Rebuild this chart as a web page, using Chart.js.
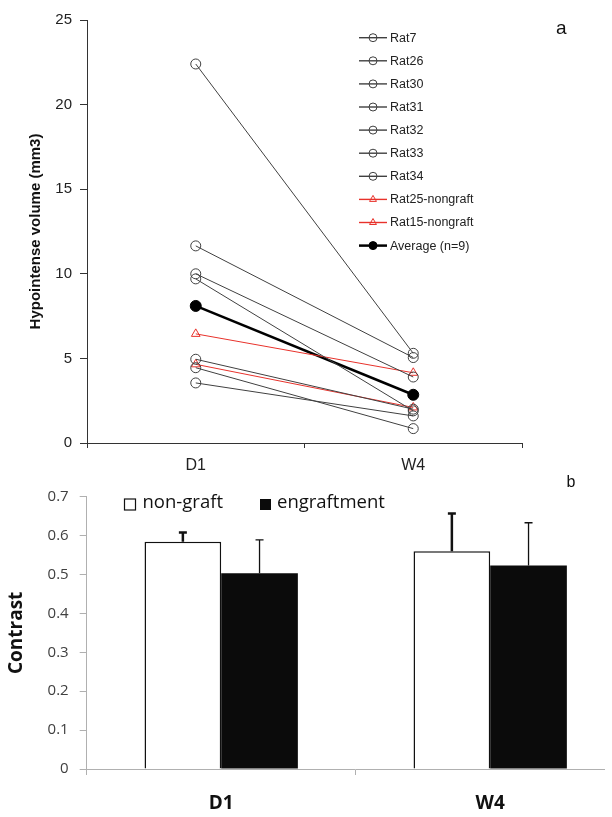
<!DOCTYPE html>
<html>
<head>
<meta charset="utf-8">
<script src="https://cdn.jsdelivr.net/npm/chart.js@4.4.1/dist/chart.umd.min.js"></script>
<style>
  html, body { margin: 0; padding: 0; background: #fff; width: 612px; height: 817px; overflow: hidden; }
  #volumeChart { position: absolute; left: 0; top: 0; }
  #bottomWrap { position: absolute; left: 0; top: 470px; width: 605px; height: 347px; overflow: hidden; }
</style>
</head>
<body>
<canvas id="volumeChart" width="612" height="480"></canvas>
<div id="bottomWrap"><canvas id="contrastChart" width="640" height="347"></canvas></div>
<script>
// Panel a: hypointense volume per rat
const timepoints = ['D1', 'W4'];
const rat7 = [22.4, 5.3];
const rat26 = [11.65, 5.05];
const rat30 = [10.0, 3.9];
const rat31 = [9.7, 1.9];
const rat32 = [4.95, 2.0];
const rat33 = [4.45, 0.85];
const rat34 = [3.55, 1.6];
const rat25Nongraft = [6.45, 4.15];
const rat15Nongraft = [4.65, 2.1];
const averageN9 = [8.1, 2.85];

// Panel b: contrast
const groups = ['D1', 'W4'];
const nongraftMean = [0.584, 0.560];
const nongraftErr = [0.024, 0.097];
const engraftMean = [0.503, 0.523];
const engraftErr = [0.086, 0.110];

const ARIAL = '"Liberation Sans", Arial, sans-serif';
const CALI = '"Open Sans", "Noto Sans", sans-serif';
const GREY = '#404040';
const RED = '#e8322b';

function ratSet(label, data, red) {
  const c = red ? RED : GREY;
  return {
    label: label,
    data: data,
    borderColor: c,
    borderWidth: 1,
    pointStyle: red ? 'triangle' : 'circle',
    pointRadius: 5,
    pointBorderWidth: 1,
    pointBorderColor: c,
    pointBackgroundColor: 'rgba(0,0,0,0)',
    tension: 0
  };
}

function drawMarker(ctx, style, x, y, r, stroke, fill) {
  ctx.beginPath();
  if (style === 'triangle') {
    ctx.moveTo(x, y - r);
    ctx.lineTo(x + r * 0.866, y + r / 2);
    ctx.lineTo(x - r * 0.866, y + r / 2);
    ctx.closePath();
  } else {
    ctx.arc(x, y, r, 0, Math.PI * 2);
  }
  ctx.fillStyle = fill;
  ctx.fill();
  ctx.strokeStyle = stroke;
  ctx.lineWidth = 1;
  ctx.stroke();
}

// legend on the right of panel a + the "a" letter
const sideLegend = {
  id: 'sideLegend',
  afterDraw(chart) {
    const ctx = chart.ctx;
    ctx.save();
    ctx.textBaseline = 'middle';
    chart.data.datasets.forEach((ds, i) => {
      const y = 37.7 + i * 23.1;
      ctx.strokeStyle = ds.borderColor;
      ctx.lineWidth = ds.borderWidth === 1 ? 1.4 : ds.borderWidth;
      ctx.beginPath();
      ctx.moveTo(359, y);
      ctx.lineTo(387, y);
      ctx.stroke();
      drawMarker(ctx, ds.pointStyle, 373, y, 4, ds.pointBorderColor, ds.pointBackgroundColor);
      ctx.fillStyle = '#222';
      ctx.font = '12.5px ' + ARIAL;
      ctx.fillText(ds.label, 390, y + 0.5);
    });
    ctx.textBaseline = 'alphabetic';
    ctx.font = '19px ' + ARIAL;
    ctx.fillStyle = '#111';
    ctx.fillText('a', 556, 34);
    ctx.restore();
  }
};

const avgSet = {
  label: 'Average (n=9)',
  data: averageN9,
  borderColor: '#000',
  borderWidth: 2.5,
  pointStyle: 'circle',
  pointRadius: 5.5,
  pointBorderWidth: 1,
  pointBorderColor: '#000',
  pointBackgroundColor: '#000',
  tension: 0
};

new Chart(document.getElementById('volumeChart'), {
  type: 'line',
  data: {
    labels: timepoints,
    datasets: [
      ratSet('Rat7', rat7),
      ratSet('Rat26', rat26),
      ratSet('Rat30', rat30),
      ratSet('Rat31', rat31),
      ratSet('Rat32', rat32),
      ratSet('Rat33', rat33),
      ratSet('Rat34', rat34),
      ratSet('Rat25-nongraft', rat25Nongraft, true),
      ratSet('Rat15-nongraft', rat15Nongraft, true),
      avgSet
    ]
  },
  options: {
    responsive: false,
    animation: false,
    devicePixelRatio: 1,
    layout: { padding: { top: 20, right: 90, left: 0, bottom: 0 } },
    plugins: { legend: { display: false }, tooltip: { enabled: false } },
    scales: {
      x: {
        type: 'category',
        offset: true,
        afterFit: s => { s.height = 37; },
        border: { display: true, color: '#333', width: 1 },
        grid: { offset: true, drawOnChartArea: false, drawTicks: true, tickLength: 5, color: '#333' },
        ticks: { color: '#222', padding: 8, font: { family: ARIAL, size: 16 } }
      },
      y: {
        min: 0,
        max: 25,
        afterFit: s => { s.width = 87; },
        border: { display: true, color: '#333', width: 1 },
        grid: { drawOnChartArea: false, drawTicks: true, tickLength: 7, color: '#333' },
        ticks: { stepSize: 5, color: '#222', padding: 8, font: { family: ARIAL, size: 15 } },
        title: {
          display: true,
          text: 'Hypointense volume (mm3)',
          color: '#111',
          padding: { top: 27, bottom: 0 },
          font: { family: ARIAL, size: 15, weight: 'bold' }
        }
      }
    }
  },
  plugins: [sideLegend]
});

// error bars (up only) for panel b
const errorBars = {
  id: 'errorBars',
  afterDatasetsDraw(chart) {
    const ctx = chart.ctx;
    const y = chart.scales.y;
    ctx.save();
    chart.data.datasets.forEach((ds, di) => {
      const meta = chart.getDatasetMeta(di);
      meta.data.forEach((bar, i) => {
        const top = y.getPixelForValue(ds.data[i] + ds.errors[i]);
        ctx.strokeStyle = '#111';
        ctx.lineWidth = ds.errorWidth;
        ctx.beginPath();
        ctx.moveTo(bar.x, bar.y);
        ctx.lineTo(bar.x, top);
        ctx.moveTo(bar.x - 4, top);
        ctx.lineTo(bar.x + 4, top);
        ctx.stroke();
      });
    });
    ctx.restore();
  }
};

// legend + "b" letter for panel b
const boxLegend = {
  id: 'boxLegend',
  afterDraw(chart) {
    const ctx = chart.ctx;
    ctx.save();
    ctx.fillStyle = '#fff';
    ctx.fillRect(124.5, 29, 11, 11);
    ctx.strokeStyle = '#111';
    ctx.lineWidth = 1.2;
    ctx.strokeRect(124.5, 29, 11, 11);
    ctx.fillStyle = '#0b0b0b';
    ctx.fillRect(260, 29, 11, 11);
    ctx.font = '18.5px ' + CALI;
    ctx.textBaseline = 'middle';
    ctx.fillStyle = '#111';
    ctx.fillText('non-graft', 142.5, 33);
    ctx.fillText('engraftment', 277, 33);
    ctx.textBaseline = 'alphabetic';
    ctx.font = '16px ' + ARIAL;
    ctx.fillText('b', 566.5, 16.7);
    ctx.restore();
  }
};

new Chart(document.getElementById('contrastChart'), {
  type: 'bar',
  data: {
    labels: groups,
    datasets: [
      {
        label: 'non-graft',
        data: nongraftMean,
        errors: nongraftErr,
        errorWidth: 2.5,
        backgroundColor: '#fff',
        borderColor: '#111',
        borderWidth: 1.5,
        borderSkipped: 'start'
      },
      {
        label: 'engraftment',
        data: engraftMean,
        errors: engraftErr,
        errorWidth: 1.3,
        backgroundColor: '#0b0b0b',
        borderWidth: 0
      }
    ]
  },
  options: {
    responsive: false,
    animation: false,
    devicePixelRatio: 1,
    categoryPercentage: 0.57,
    barPercentage: 1.0,
    layout: { padding: { top: 26.7, right: 15.3, left: 0, bottom: 0 } },
    plugins: { legend: { display: false }, tooltip: { enabled: false } },
    scales: {
      x: {
        afterFit: s => { s.height = 48; },
        border: { display: true, color: '#b0b0b0', width: 1 },
        grid: { offset: true, drawOnChartArea: false, drawTicks: true, tickLength: 6, color: '#b0b0b0' },
        ticks: { color: '#111', padding: 17, font: { family: CALI, size: 19, weight: 'bold' } }
      },
      y: {
        min: 0,
        max: 0.7,
        afterFit: s => { s.width = 86.7; },
        border: { display: true, color: '#b0b0b0', width: 1 },
        grid: { drawOnChartArea: false, drawTicks: true, tickLength: 7, color: '#b0b0b0' },
        ticks: { stepSize: 0.1, color: '#404040', padding: 11, font: { family: CALI, size: 15 } },
        title: {
          display: true,
          text: 'Contrast',
          color: '#111',
          padding: { top: 5, bottom: 0 },
          font: { family: CALI, size: 19, weight: 'bold' }
        }
      }
    }
  },
  plugins: [errorBars, boxLegend]
});
</script>
</body>
</html>
